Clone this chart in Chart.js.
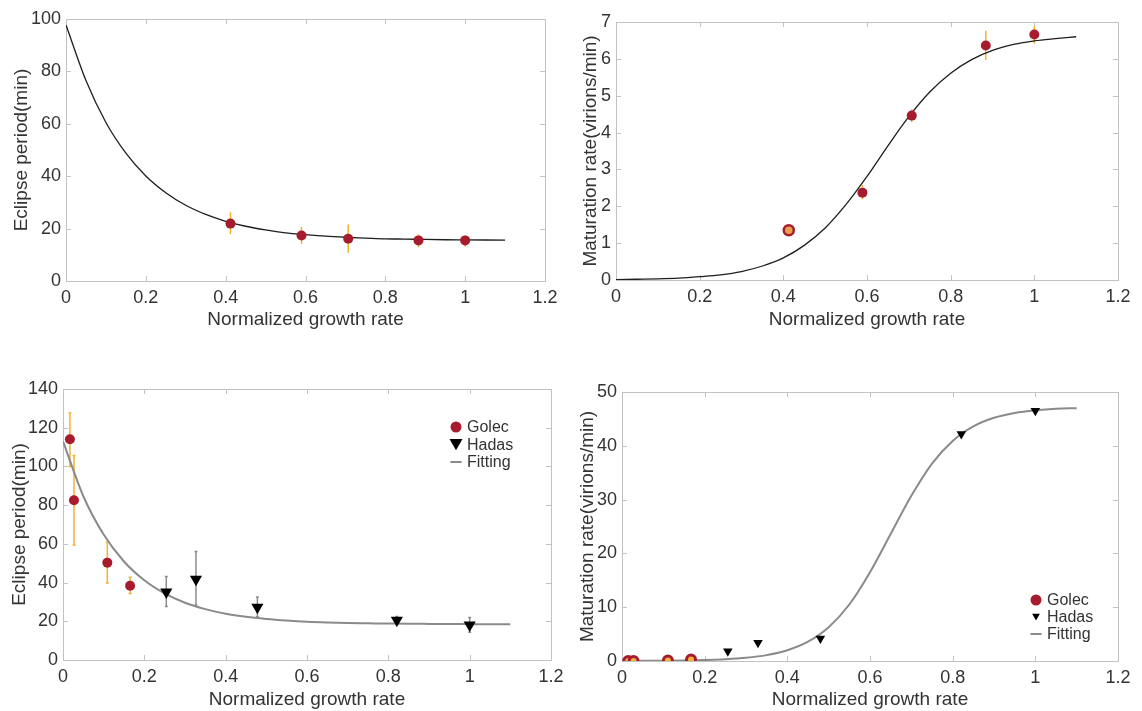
<!DOCTYPE html>
<html>
<head>
<meta charset="utf-8">
<script src="https://cdn.jsdelivr.net/npm/chart.js@4.4.0/dist/chart.umd.min.js"></script>
<style>
  html, body { margin: 0; padding: 0; background: #fff; }
  body { width: 1142px; height: 711px; position: relative; overflow: hidden; }
  canvas { position: absolute; }
</style>
</head>
<body>
<canvas id="c1" width="571" height="345" style="left:0;top:0"></canvas>
<canvas id="c2" width="571" height="345" style="left:571px;top:0"></canvas>
<canvas id="c3" width="571" height="366" style="left:0;top:345px"></canvas>
<canvas id="c4" width="571" height="366" style="left:571px;top:345px"></canvas>
<script>
// sample x positions of the fitted curves
const fitX = [0, 0.05, 0.1, 0.15, 0.2, 0.25, 0.3, 0.35, 0.4, 0.45, 0.5, 0.55, 0.6, 0.65, 0.7, 0.75, 0.8, 0.85, 0.9, 0.95, 1, 1.05, 1.1];

// panel 1: eclipse period
const p1X = [0.412, 0.59, 0.707, 0.883, 1.0];
const p1Y = [21.9, 17.4, 16.1, 15.5, 15.5];
const p1Lo = [17.8, 14.2, 10.8, 12.9, 13.1];
const p1Hi = [26.2, 20.6, 21.6, 17.8, 17.4];
const p1Fit = [97.7, 76.5, 60.5, 48.8, 40.1, 33.7, 28.9, 25.4, 22.8, 20.9, 19.5, 18.4, 17.7, 17.1, 16.7, 16.4, 16.1, 16.0, 15.85, 15.75, 15.7, 15.65, 15.6];

// panel 2: maturation rate
const p2X = [0.413, 0.589, 0.707, 0.884, 1.0];
const p2Y = [1.35, 2.37, 4.46, 6.36, 6.66];
const p2Lo = [1.3, 2.19, 4.28, 5.97, 6.41];
const p2Hi = [1.4, 2.58, 4.63, 6.76, 6.89];
const p2Fit = [0.01, 0.02, 0.03, 0.05, 0.09, 0.14, 0.23, 0.38, 0.6, 0.94, 1.41, 2.05, 2.81, 3.64, 4.43, 5.1, 5.61, 5.98, 6.23, 6.39, 6.49, 6.55, 6.6];

// panel 3: eclipse period, Golec + Hadas
const g3X = [0.017, 0.027, 0.109, 0.165];
const g3Y = [114, 82.5, 50.3, 38.4];
const g3Lo = [100, 59.4, 39.8, 34.4];
const g3Hi = [127.6, 105.7, 61, 42.7];
const h3X = [0.254, 0.327, 0.478, 0.821, 1.0];
const h3Y = [35.1, 41.7, 27.2, 20.5, 18.1];
const h3Lo = [27.6, 28.4, 22.4, 19, 14.3];
const h3Hi = [43.2, 56, 32.5, 22.5, 21.9];
const p3Fit = [113, 84.6, 64.8, 50.9, 41.2, 34.4, 29.6, 26.3, 23.9, 22.3, 21.2, 20.4, 19.8, 19.4, 19.1, 18.95, 18.8, 18.7, 18.65, 18.6, 18.55, 18.5, 18.5];

// panel 4: maturation rate, Golec + Hadas
const g4X = [0.015, 0.028, 0.111, 0.167];
const g4Y = [0, 0, 0.1, 0.3];
const h4X = [0.256, 0.329, 0.48, 0.821, 1.0];
const h4Y = [1.8, 3.4, 4.2, 42.2, 46.5];
const p4Fit = [0.01, 0.03, 0.05, 0.09, 0.17, 0.32, 0.59, 1.09, 1.99, 3.58, 6.28, 10.5, 16.5, 23.6, 30.7, 36.7, 40.9, 43.6, 45.2, 46.1, 46.6, 46.9, 47.0];

const xTicks = [0, 0.2, 0.4, 0.6, 0.8, 1, 1.2];

const FONT = "'Liberation Sans', Arial, sans-serif";
const TXT = '#333';
const RED = '#a61c2e';
const ORANGE = '#f2b233';

function pts(xs, ys) {
    return xs.map((x, i) => ({ x: x, y: ys[i] }));
}

// frame around plot area with inward ticks on all sides
const framePlugin = {
    id: 'frame',
    beforeDatasetsDraw(chart) {
        const { ctx, chartArea: a, scales: { x, y } } = chart;
        ctx.save();
        ctx.strokeStyle = '#c2c2c2';
        ctx.lineWidth = 1;
        ctx.strokeRect(Math.round(a.left) + 0.5, Math.round(a.top) + 0.5,
            Math.round(a.right - a.left), Math.round(a.bottom - a.top));
        ctx.beginPath();
        x.ticks.forEach(t => {
            const px = Math.round(x.getPixelForValue(t.value)) + 0.5;
            ctx.moveTo(px, a.bottom); ctx.lineTo(px, a.bottom - 5);
            ctx.moveTo(px, a.top); ctx.lineTo(px, a.top + 5);
        });
        y.ticks.forEach(t => {
            const py = Math.round(y.getPixelForValue(t.value)) + 0.5;
            ctx.moveTo(a.left, py); ctx.lineTo(a.left + 5, py);
            ctx.moveTo(a.right, py); ctx.lineTo(a.right - 5, py);
        });
        ctx.stroke();
        ctx.restore();
    }
};

// vertical error bars from errLo / errHi
const errorPlugin = {
    id: 'errbars',
    beforeDatasetsDraw(chart) {
        const { ctx, scales: { x, y } } = chart;
        chart.data.datasets.forEach(ds => {
            if (!ds.errLo) return;
            ctx.save();
            ctx.strokeStyle = ds.errColor;
            ctx.lineWidth = ds.errWidth || 1.5;
            ctx.beginPath();
            ds.data.forEach((p, i) => {
                const px = x.getPixelForValue(p.x);
                const lo = y.getPixelForValue(ds.errLo[i]);
                const hi = y.getPixelForValue(ds.errHi[i]);
                ctx.moveTo(px, lo); ctx.lineTo(px, hi);
                if (ds.errCap) {
                    ctx.moveTo(px - ds.errCap, lo); ctx.lineTo(px + ds.errCap, lo);
                    ctx.moveTo(px - ds.errCap, hi); ctx.lineTo(px + ds.errCap, hi);
                }
            });
            ctx.stroke();
            ctx.restore();
        });
    }
};

// small legend inside the plot area
const legendPlugin = {
    id: 'floatLegend',
    afterDraw(chart, args, opts) {
        if (!opts.x) return;
        const ctx = chart.ctx;
        ctx.save();
        ctx.font = '16px ' + FONT;
        ctx.textBaseline = 'middle';
        ctx.fillStyle = TXT;
        chart.data.datasets.forEach((ds, i) => {
            const cx = opts.x, cy = opts.y + i * opts.dy;
            const r = opts.sizes[i];
            ctx.fillStyle = ds.legendColor;
            ctx.strokeStyle = ds.legendColor;
            ctx.beginPath();
            if (ds.pointStyle === 'circle') {
                ctx.arc(cx, cy, r, 0, Math.PI * 2);
                ctx.fill();
            } else if (ds.pointStyle === 'triangle') {
                const h = r * 1.5, w = r * Math.sqrt(3) / 2;
                ctx.moveTo(cx - w, cy - h / 2);
                ctx.lineTo(cx + w, cy - h / 2);
                ctx.lineTo(cx, cy + h / 2);
                ctx.closePath();
                ctx.fill();
            } else {
                ctx.lineWidth = 2;
                ctx.moveTo(cx - r, cy); ctx.lineTo(cx + r, cy);
                ctx.stroke();
            }
            ctx.fillStyle = TXT;
            ctx.fillText(ds.label, opts.x + opts.tx, cy + 1);
        });
        ctx.restore();
    }
};

function scales(xTitle, yTitle, yMax, yStep, yWidth, xHeight) {
    return {
        x: {
            type: 'linear', min: 0, max: 1.2,
            grid: { display: false, drawTicks: false },
            border: { display: false },
            afterBuildTicks: s => { s.ticks = xTicks.map(v => ({ value: v })); },
            ticks: {
                padding: 6, color: TXT, maxRotation: 0, autoSkip: false,
                font: { family: FONT, size: 18 },
                callback: v => String(+Number(v).toFixed(1))
            },
            title: { display: true, text: xTitle, color: TXT, padding: 0, font: { family: FONT, size: 19 } },
            afterFit: s => { s.height = xHeight; }
        },
        y: {
            type: 'linear', min: 0, max: yMax,
            grid: { display: false, drawTicks: false },
            border: { display: false },
            ticks: {
                stepSize: yStep, padding: 5, color: TXT,
                font: { family: FONT, size: 18 },
                callback: v => String(v)
            },
            title: { display: true, text: yTitle, color: TXT, padding: 0, font: { family: FONT, size: 19 } },
            afterFit: s => { s.width = yWidth; }
        }
    };
}

function drawPanel(id, datasets, sc, padding, legend) {
    const ctx = document.getElementById(id).getContext('2d');
    return new Chart(ctx, {
        type: 'scatter',
        data: { datasets: datasets },
        options: {
            responsive: false,
            animation: false,
            events: [],
            layout: { padding: padding },
            scales: sc,
            plugins: {
                legend: { display: false },
                tooltip: { enabled: false },
                floatLegend: legend || {}
            }
        },
        plugins: [framePlugin, errorPlugin, legendPlugin]
    });
}

function curve(values, color, width, label) {
    return {
        label: label || 'Fitting',
        type: 'line',
        data: pts(fitX, values),
        borderColor: color,
        borderWidth: width,
        pointRadius: 0,
        showLine: true,
        fill: false,
        cubicInterpolationMode: 'monotone',
        legendColor: color
    };
}

// panel 1
drawPanel('c1', [
    {
        label: 'Golec', data: pts(p1X, p1Y), pointStyle: 'circle', pointRadius: 5,
        backgroundColor: RED, borderColor: RED, borderWidth: 0,
        errLo: p1Lo, errHi: p1Hi, errColor: ORANGE, errWidth: 1.5
    },
    curve(p1Fit, '#1e1e1e', 1.3)
], scales('Normalized growth rate', 'Eclipse period(min)', 100, 20, 56, 50),
    { top: 19, left: 10, right: 26, bottom: 14 });

// panel 2
drawPanel('c2', [
    {
        label: 'Golec', data: pts(p2X, p2Y), pointStyle: 'circle', pointRadius: 5,
        backgroundColor: ['#e8a24a', RED, RED, RED, RED], borderColor: RED, borderWidth: [2.5, 0, 0, 0, 0],
        errLo: p2Lo, errHi: p2Hi, errColor: ORANGE, errWidth: 1.5
    },
    curve(p2Fit, '#1e1e1e', 1.3)
], scales('Normalized growth rate', 'Maturation rate(virions/min)', 7, 1, 37, 51),
    { top: 22, left: 8, right: 24, bottom: 14 });

// panel 3
drawPanel('c3', [
    {
        label: 'Golec', data: pts(g3X, g3Y), pointStyle: 'circle', pointRadius: 5,
        backgroundColor: RED, borderColor: RED, borderWidth: 0, legendColor: RED,
        errLo: g3Lo, errHi: g3Hi, errColor: ORANGE, errWidth: 1.5, errCap: 1.5
    },
    {
        label: 'Hadas', data: pts(h3X, h3Y), pointStyle: 'triangle', rotation: 180, pointRadius: 7,
        backgroundColor: '#000', borderColor: '#000', borderWidth: 0, legendColor: '#000',
        errLo: h3Lo, errHi: h3Hi, errColor: '#8c8c8c', errWidth: 1.5, errCap: 1.5
    },
    curve(p3Fit, '#8a8a8a', 2)
], scales('Normalized growth rate', 'Eclipse period(min)', 140, 20, 55, 51),
    { top: 44, left: 8, right: 20, bottom: 0 },
    { x: 456, y: 82, dy: 17.5, tx: 11, sizes: [5.5, 7.5, 5.5] });

// panel 4
drawPanel('c4', [
    {
        label: 'Golec', data: pts(g4X, g4Y), pointStyle: 'circle', pointRadius: 4.5,
        backgroundColor: '#eeb23c', borderColor: RED, borderWidth: 3, legendColor: RED
    },
    {
        label: 'Hadas', data: pts(h4X, h4Y), pointStyle: 'triangle', rotation: 180, pointRadius: 5.5,
        backgroundColor: '#000', borderColor: '#000', borderWidth: 0, legendColor: '#000'
    },
    curve(p4Fit, '#8a8a8a', 2)
], scales('Normalized growth rate', 'Maturation rate(virions/min)', 50, 10, 46, 50),
    { top: 47, left: 5, right: 24, bottom: 0 },
    { x: 465, y: 255, dy: 17, tx: 11, sizes: [5.5, 4.5, 5.5] });
</script>
</body>
</html>
